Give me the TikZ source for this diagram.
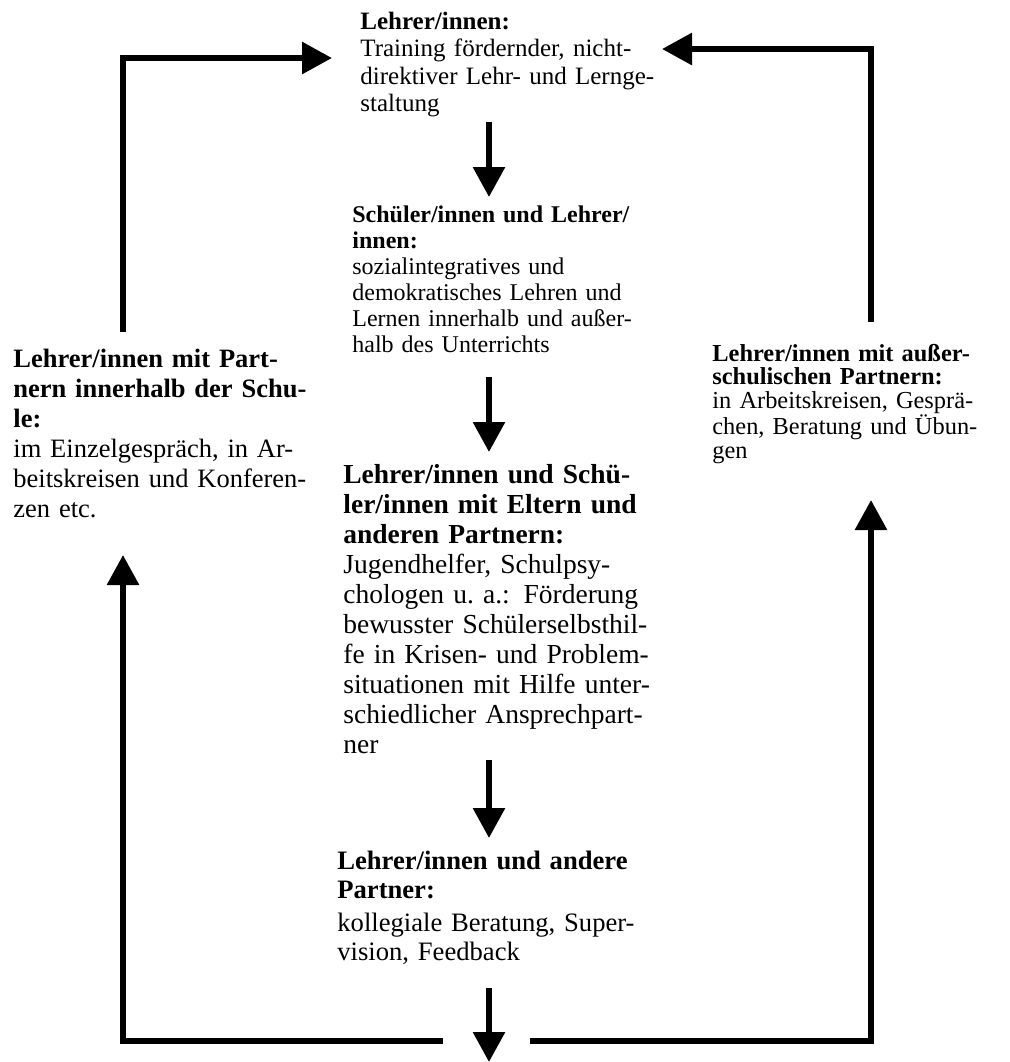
\documentclass[tikz,border=0pt]{standalone}
\usepackage{fontspec}
\setmainfont{Liberation Serif}
\usetikzlibrary{arrows.meta}
\newcommand{\jline}[1]{\makebox[\linewidth][s]{#1}}
\tikzset{
  flow/.style={line width=3pt,-{Triangle[length=15pt,width=15.5pt]}},
  elbow/.style={flow,line join=miter},
  txt/.style={anchor=base west,inner sep=0pt,align=left,text width=#1},
  txt/.default=170pt
}
\begin{document}
\begin{tikzpicture}[x=0.5pt,y=-0.5pt]
        \useasboundingbox (0,0) rectangle (1010,1062);
        %TEXT
        \node[txt,font=\fontsize{12.5}{13.75}\selectfont] (lehrer) at (360,29)
          {\textbf{Lehrer/innen:}\\ Training fördernder, nicht-\\ direktiver Lehr- und Lernge-\\ staltung};
        \node[txt,font=\fontsize{12}{13}\selectfont] (schueler) at (352,222)
          {\textbf{Schüler/innen und Lehrer/}\\ \textbf{innen:}\\ sozialintegratives und\\ demokratisches Lehren und\\ Lernen innerhalb und außer-\\ halb des Unterrichts};
        \node[txt,font=\fontsize{13.75}{15}\selectfont] (eltern) at (343,483)
          {\textbf{Lehrer/innen und Schü-}\\ \textbf{ler/innen mit Eltern und}\\ \textbf{anderen Partnern:}\\ Jugendhelfer, Schulpsy-\\ chologen u.\ a.: Förderung\\ bewusster Schülerselbsthil-\\ fe in Krisen- und Problem-\\ situationen mit Hilfe unter-\\ schiedlicher Ansprechpart-\\ ner};
        \node[txt,font=\fontsize{13.3}{14.5}\selectfont] (andere) at (337,869)
          {\textbf{Lehrer/innen und andere}\\ \textbf{Partner:}\\[2pt] kollegiale Beratung, Super-\\ vision, Feedback};
        \node[txt=149.5pt,font=\fontsize{13.25}{15}\selectfont] (schule) at (13,367)
          {\textbf{Lehrer/innen mit Part-}\\ \jline{\textbf{nern innerhalb der Schu-}}\\ \textbf{le:}\\ \jline{im Einzelgespräch, in Ar-}\\ \jline{beitskreisen und Konferen-}\\ zen etc.};
        \node[txt=145.5pt,font=\fontsize{12.2}{11.75}\selectfont] (extern) at (712,361)
          {\jline{\textbf{Lehrer/innen mit außer-}}\\ \textbf{schulischen Partnern:}\\ \jline{in Arbeitskreisen, Gesprä-}\\ \jline{chen, Beratung und Übun-}\\ gen};
        %ARROW ENDS
        \coordinate (a1s) at (489,122);  \coordinate (a1e) at (489,197);
        \coordinate (a2s) at (489,377);  \coordinate (a2e) at (489,452);
        \coordinate (a3s) at (489,760);  \coordinate (a3e) at (489,838);
        \coordinate (a4s) at (489,988);  \coordinate (a4e) at (489,1062);
        \coordinate (tls) at (123,332);  \coordinate (tle) at (332,58);
        \coordinate (trs) at (871,322);  \coordinate (tre) at (662,49);
        \coordinate (bls) at (443,1041); \coordinate (ble) at (123,555);
        \coordinate (brs) at (530,1041); \coordinate (bre) at (871,500);
        %DOWN
        \draw[flow] (a1s) -- (a1e);
        \draw[flow] (a2s) -- (a2e);
        \draw[flow] (a3s) -- (a3e);
        \draw[flow] (a4s) -- (a4e);
        %LOOPS
        \draw[elbow] (tls) |- (tle);
        \draw[elbow] (trs) |- (tre);
        \draw[elbow] (bls) -| (ble);
        \draw[elbow] (brs) -| (bre);
\end{tikzpicture}
\end{document}
